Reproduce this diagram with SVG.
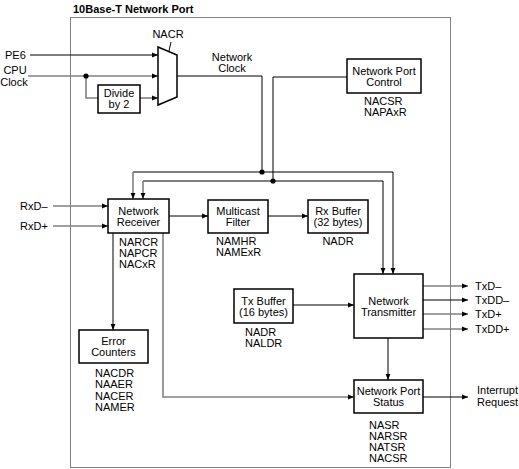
<svg xmlns="http://www.w3.org/2000/svg" width="519" height="469" viewBox="0 0 519 469">
<style>
text{font-family:"Liberation Sans",Arial,sans-serif;font-size:11px;fill:#000}
.t{font-weight:bold}
.c{text-anchor:middle}
.box{fill:#fff;stroke:#000;stroke-width:1.5}
.k{fill:none;stroke:#000;stroke-width:1}
.g{fill:none;stroke:#808080;stroke-width:1.6}
.ka{fill:none;stroke:#000;stroke-width:1;marker-end:url(#ah)}
.ga{fill:none;stroke:#808080;stroke-width:1.6;marker-end:url(#ahg)}
</style>
<defs>
<marker id="ah" viewBox="0 0 6 6" refX="6" refY="3" markerWidth="6" markerHeight="6" markerUnits="userSpaceOnUse" orient="auto"><path d="M0,0.6 L6,3 L0,5.4 Z" fill="#000"/></marker>
<marker id="ahg" viewBox="0 0 6 6" refX="6" refY="3" markerWidth="6" markerHeight="6" markerUnits="userSpaceOnUse" orient="auto"><path d="M0,0.6 L6,3 L0,5.4 Z" fill="#000"/></marker>
</defs>
<rect width="519" height="469" fill="#fff"/>
<text class="t" x="73" y="13">10Base-T Network Port</text>
<rect x="70.5" y="17.5" width="380" height="450" fill="none" stroke="#000" stroke-width="1" stroke-dasharray="1,1"/>

<g id="connectors">
<path class="ka" d="M30,55 H158"/>
<path class="ga" d="M28,76 H158"/>
<path class="g" d="M86,76 V98 H98"/>
<path class="ga" d="M140,98 H158"/>
<path class="k" d="M169,51 L171,42"/>
<path class="k" d="M177,76 H262 V172"/>
<path class="k" d="M347,77 H273 V181"/>
<path class="k" d="M133,172 H393"/>
<path class="k" d="M143,181 H383"/>
<path class="ga" d="M133,172 V199"/>
<path class="ga" d="M143,181 V199"/>
<path class="ka" d="M393,172 V274"/>
<path class="ka" d="M383,181 V274"/>
<circle cx="86" cy="76" r="2.6" fill="#000"/>
<circle cx="262" cy="172" r="2.6" fill="#000"/>
<circle cx="273" cy="181" r="2.6" fill="#000"/>
<path class="ga" d="M53,206 H108"/>
<path class="ga" d="M53,226 H108"/>
<path class="ka" d="M169,216 H208"/>
<path class="ka" d="M268,216 H308"/>
<path class="ka" d="M113,233 V330"/>
<path class="ga" d="M163,233 V397 H354"/>
<path class="ka" d="M293,305 H354"/>
<path class="ka" d="M388,338 V380"/>
<path class="ga" d="M423,286 H468"/>
<path class="ka" d="M423,300 H468"/>
<path class="ga" d="M423,314 H468"/>
<path class="ga" d="M423,329 H468"/>
<path class="ka" d="M423,397 H468"/>
</g>

<g id="inputs">
<text x="5" y="59">PE6</text>
<text class="c" x="15" y="74">CPU</text>
<text class="c" x="14" y="86">Clock</text>
<text x="20" y="210">RxD–</text>
<text x="20" y="230">RxD+</text>
</g>

<g id="mux">
<path d="M158,47 L177,55 L177,97 L158,105 Z" fill="#fff" stroke="#000" stroke-width="1.5"/>
<text class="c" x="168" y="38">NACR</text>
</g>

<g id="divide">
<rect class="box" x="98" y="85" width="42" height="28"/>
<text class="c" x="119" y="97">Divide</text>
<text class="c" x="119" y="108">by 2</text>
</g>

<g id="netclock-label">
<text class="c" x="232" y="61">Network</text>
<text class="c" x="232" y="72">Clock</text>
</g>

<g id="port-control">
<rect class="box" x="347" y="59" width="74" height="34"/>
<text class="c" x="384" y="75">Network Port</text>
<text class="c" x="384" y="86">Control</text>
<text x="364" y="105">NACSR</text>
<text x="364" y="116">NAPAxR</text>
</g>

<g id="receiver">
<rect class="box" x="108" y="199" width="61" height="34"/>
<text class="c" x="138.5" y="215">Network</text>
<text class="c" x="138.5" y="226">Receiver</text>
<text x="119" y="246">NARCR</text>
<text x="119" y="257">NAPCR</text>
<text x="119" y="268">NACxR</text>
</g>

<g id="multicast">
<rect class="box" x="208" y="200" width="60" height="33"/>
<text class="c" x="238" y="215">Multicast</text>
<text class="c" x="238" y="226">Filter</text>
<text x="216" y="245">NAMHR</text>
<text x="216" y="256">NAMExR</text>
</g>

<g id="rxbuffer">
<rect class="box" x="308" y="200" width="60" height="33"/>
<text class="c" x="338" y="215">Rx Buffer</text>
<text class="c" x="338" y="226">(32 bytes)</text>
<text class="c" x="338" y="245">NADR</text>
</g>

<g id="transmitter">
<rect class="box" x="354" y="274" width="69" height="64"/>
<text class="c" x="388.5" y="305">Network</text>
<text class="c" x="388.5" y="316">Transmitter</text>
</g>

<g id="txbuffer">
<rect class="box" x="234" y="289" width="59" height="34"/>
<text class="c" x="263.5" y="305">Tx Buffer</text>
<text class="c" x="263.5" y="316">(16 bytes)</text>
<text x="245" y="336">NADR</text>
<text x="245" y="347">NALDR</text>
</g>

<g id="error-counters">
<rect class="box" x="79" y="330" width="69" height="33"/>
<text class="c" x="113.5" y="345">Error</text>
<text class="c" x="113.5" y="356">Counters</text>
<text x="95" y="377">NACDR</text>
<text x="95" y="388">NAAER</text>
<text x="95" y="400">NACER</text>
<text x="95" y="411">NAMER</text>
</g>

<g id="port-status">
<rect class="box" x="354" y="380" width="69" height="33"/>
<text class="c" x="388.5" y="395">Network Port</text>
<text class="c" x="388.5" y="406">Status</text>
<text x="369" y="429">NASR</text>
<text x="369" y="440">NARSR</text>
<text x="369" y="451">NATSR</text>
<text x="369" y="462">NACSR</text>
</g>

<g id="outputs">
<text x="475" y="290">TxD–</text>
<text x="475" y="304">TxDD–</text>
<text x="475" y="318">TxD+</text>
<text x="475" y="333">TxDD+</text>
<text x="477" y="394">Interrupt</text>
<text x="477" y="406">Request</text>
</g>
</svg>
